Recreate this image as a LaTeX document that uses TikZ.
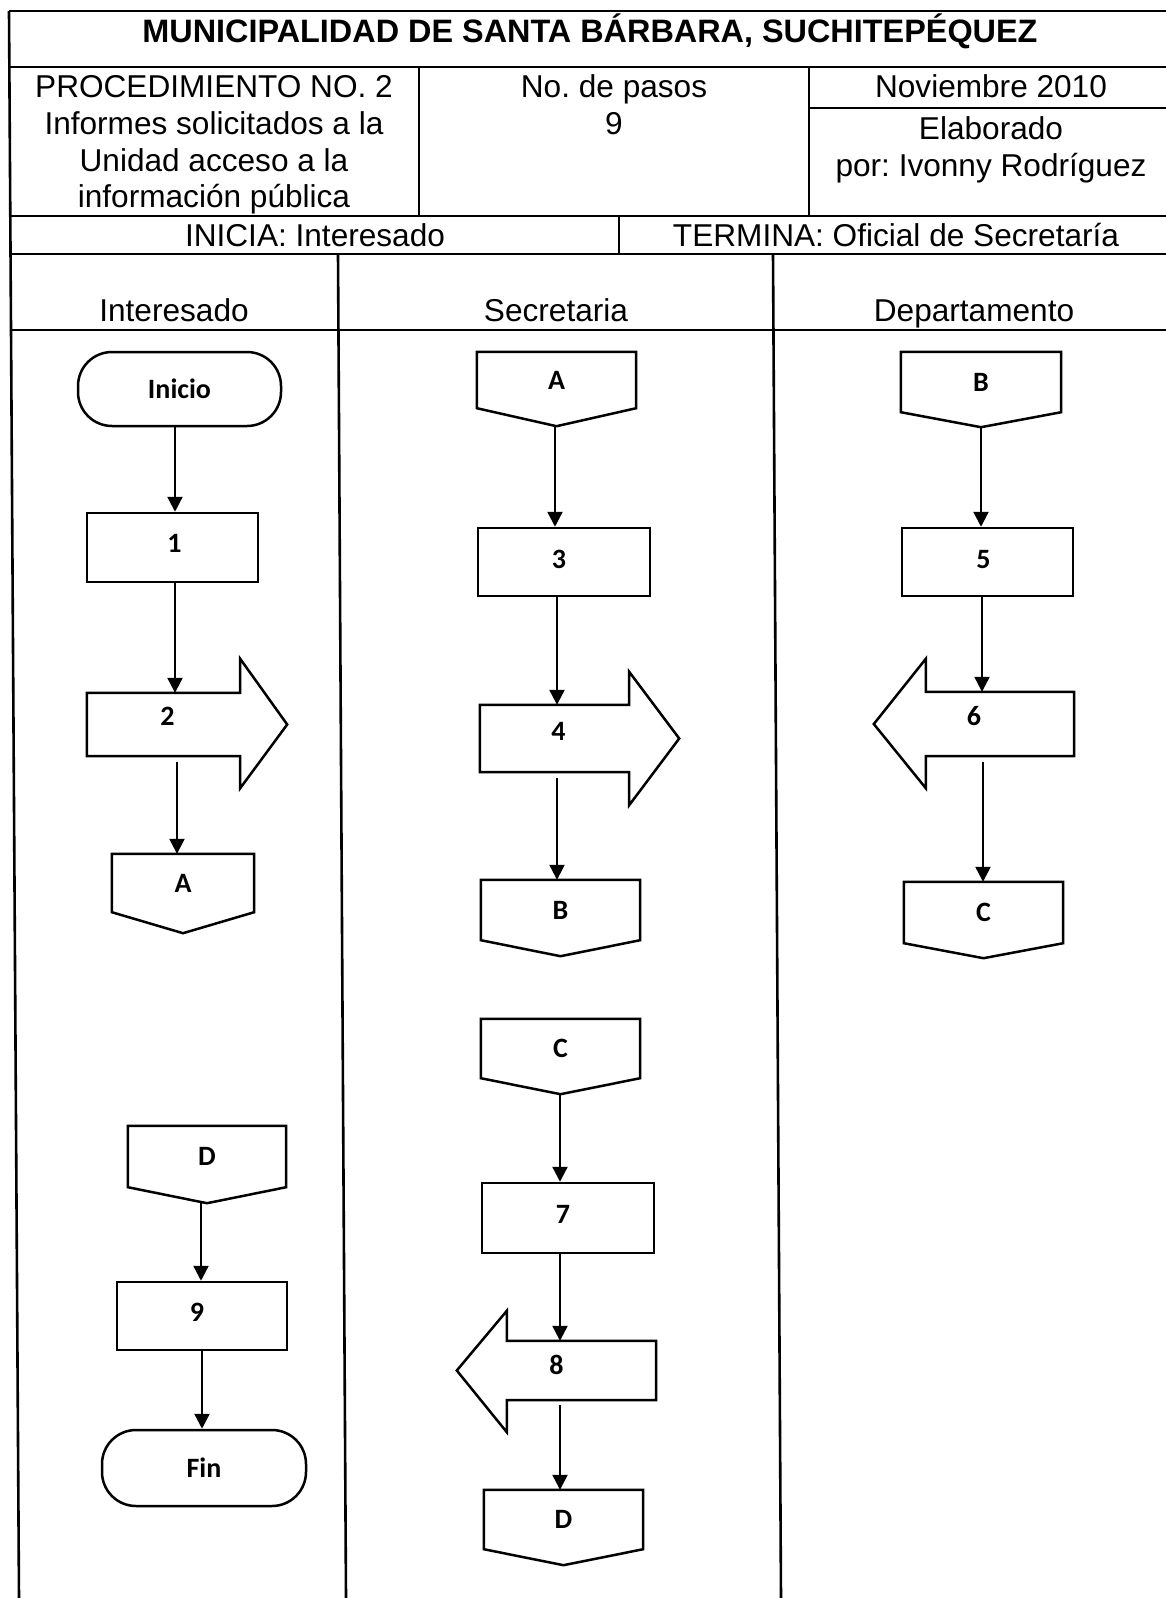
\documentclass[tikz,border=0pt]{standalone}
\usepackage{fontspec}
\setmainfont{Liberation Sans}
\newfontfamily\shapefont{Carlito}
\usetikzlibrary{calc,arrows.meta}
\frenchspacing

\newcommand\offpage[2]{\draw[shp] (#1.north west) -- (#1.north east) -- (#1.south east) -- ($(#1.south)+(0,#2)$) -- (#1.south west) -- cycle;}
\newcommand\rarrowshape[4]{\draw[shp] (#1.north west) -- (#1.north east) -- ($(#1.north east)+(0,-#2)$) -- ($(#1.east)+(#4,0)$) -- ($(#1.south east)+(0,#3)$) -- (#1.south east) -- (#1.south west) -- cycle;}
\newcommand\larrowshape[4]{\draw[shp] (#1.north east) -- (#1.south east) -- ($(#1.south west)+(#4,0)$) -- ($(#1.south west)+(#4,#3)$) -- (#1.west) -- ($(#1.north west)+(#4,-#2)$) -- ($(#1.north west)+(#4,0)$) -- cycle;}
\newcommand\conn[4]{\draw[arr] ($(#1)+(#3,#4)$) -- ($(#1 |- #2)+(#3,0)$);}

\begin{document}
\begin{tikzpicture}[x=1pt,y=-1pt,
  tline/.style={line width=2.6pt},
  shp/.style={line width=2.5pt, line join=miter},
  lbl/.style={font=\shapefont\bfseries\fontsize{28}{34}\selectfont, inner sep=0pt},
  hdr/.style={font=\fontsize{31.6}{36}\selectfont, inner sep=0pt, anchor=base},
  arr/.style={line width=2.3pt, -{Triangle[length=15pt,width=15pt]}},
  procbox/.style 2 args={lbl, draw, shp, rectangle, minimum width=#1, minimum height=#2},
  termbox/.style 2 args={lbl, draw, shp, rectangle, rounded corners=34pt, minimum width=#1, minimum height=#2},
  plainbox/.style 2 args={lbl, rectangle, minimum width=#1, minimum height=#2},
  tshift/.style 2 args={text depth=#2, execute at begin node={\hspace*{#1}}}
]
\useasboundingbox (0,0) rectangle (1166,1598);
\fill[white] (0,0) rectangle (1166,1598);

% ---------- table lines ----------
\draw[tline] (9,11) -- (1166,11);
\draw[tline] (9,67) -- (1166,67);
\draw[tline] (9,216) -- (1166,216);
\draw[tline] (9,254) -- (1166,254);
\draw[tline] (10,330) -- (1166,330);
\draw[tline] (809,108) -- (1166,108);
\draw[tline] (9,11) -- (19,1598);
\draw[tline] (419,67) -- (419,216);
\draw[tline] (809,67) -- (809,216);
\draw[tline] (619,216) -- (619,254);
\draw[tline] (338,254) -- (346,1598);
\draw[tline] (773,254) -- (781,1598);

% ---------- header texts ----------
\node[hdr, font=\bfseries\fontsize{32.4}{36}\selectfont] (title) at (590,42) {MUNICIPALIDAD DE SANTA BÁRBARA, SUCHITEPÉQUEZ};
\node[hdr] (p1) at (214,97) {PROCEDIMIENTO NO. 2};
\node[hdr] (p2) at (214,134) {Informes solicitados a la};
\node[hdr] (p3) at (214,171) {Unidad acceso a la};
\node[hdr] (p4) at (214,207) {información pública};
\node[hdr] (n1) at (614,97) {No. de pasos};
\node[hdr] (n2) at (614,134) {9};
\node[hdr] (d1) at (991,97) {Noviembre 2010};
\node[hdr] (d2) at (991,139) {Elaborado};
\node[hdr] (d3) at (991,176) {por: Ivonny Rodríguez};
\node[hdr] (ini1) at (315,246) {INICIA: Interesado};
\node[hdr] (ter1) at (896,246) {TERMINA: Oficial de Secretaría};
\node[hdr] (l1) at (174,321) {Interesado};
\node[hdr] (l2) at (556,321) {Secretaria};
\node[hdr] (l3) at (974,321) {Departamento};

% ---------- Interesado ----------
\node[termbox={203}{74}] (ini) at (179.5,389) {Inicio};
\node[procbox={171}{69}, tshift={4pt}{9pt}] (b1) at (172.5,547.5) {1};
\node[plainbox={153}{63}, tshift={8pt}{16pt}] (a2) at (163.5,724.5) {2};
\rarrowshape{a2}{34}{32}{47}
\node[plainbox={142}{58}] (oA1) at (183,883) {A};
\offpage{oA1}{21}
\node[plainbox={158}{61}] (oD1) at (207,1156.5) {D};
\offpage{oD1}{16}
\node[procbox={170}{68}, tshift={-10pt}{8pt}] (b9) at (202,1316) {9};
\node[termbox={204}{76}] (fin) at (204,1468) {Fin};

% ---------- Secretaria ----------
\node[plainbox={159}{56}] (oA2) at (556.5,380) {A};
\offpage{oA2}{18}
\node[procbox={172}{68}, tshift={-10pt}{6pt}] (b3) at (564,562) {3};
\node[plainbox={149}{67}, tshift={8pt}{14pt}] (a4) at (554.5,738.5) {4};
\rarrowshape{a4}{33}{33}{50}
\node[plainbox={159}{60}] (oB1) at (560.5,910) {B};
\offpage{oB1}{16}
\node[plainbox={159}{59}] (oC1) at (560.5,1048.5) {C};
\offpage{oC1}{16}
\node[procbox={172}{70}, tshift={-10pt}{8pt}] (b7) at (568,1218) {7};
\node[plainbox={199}{59}, tshift={0pt}{12pt}] (a8) at (556.5,1370.5) {8};
\larrowshape{a8}{30}{32}{50}
\node[plainbox={159}{59}] (oD2) at (563.5,1519.5) {D};
\offpage{oD2}{16}

% ---------- Departamento ----------
\node[plainbox={160}{60}] (oB2) at (981,382) {B};
\offpage{oB2}{15}
\node[procbox={171}{68}, tshift={-8pt}{6pt}] (b5) at (987.5,562) {5};
\node[plainbox={200}{64}, tshift={0pt}{16pt}] (a6) at (974,724) {6};
\larrowshape{a6}{33}{32}{52}
\node[plainbox={159}{61}] (oC2) at (983.5,912.5) {C};
\offpage{oC2}{15}

% ---------- connectors ----------
\conn{ini.south}{b1.north}{-4.5}{0}
\conn{b1.south}{a2.north}{2.5}{0}
\conn{a2.south}{oA1.north}{13.5}{6}
\conn{oD1.south}{b9.north}{-6}{16}
\conn{b9.south}{fin.north}{0}{0}

\conn{oA2.south}{b3.north}{-1.5}{18}
\conn{b3.south}{a4.north}{-7}{0}
\conn{a4.south}{oB1.north}{2.5}{6}
\conn{oC1.south}{b7.north}{-0.5}{16}
\conn{b7.south}{a8.north}{-8}{0}
\conn{a8.south}{oD2.north}{3.5}{5}

\conn{oB2.south}{b5.north}{0}{15}
\conn{b5.south}{a6.north}{-5.5}{0}
\conn{a6.south}{oC2.north}{9}{6}
\end{tikzpicture}
\end{document}
